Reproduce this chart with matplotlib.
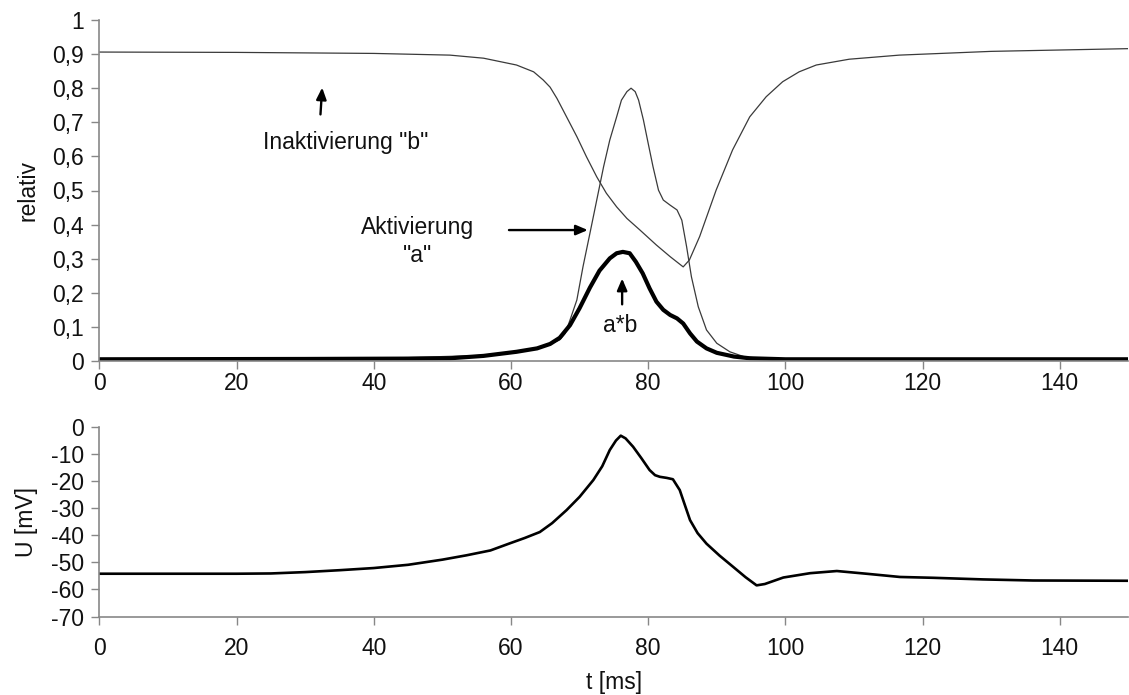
import matplotlib
matplotlib.use("Agg")
import matplotlib.pyplot as plt

plt.rcParams['font.family'] = ['Liberation Sans', 'DejaVu Sans']

# Inactivation variable b
t_b = [0, 20, 40, 51.1, 56.0, 60.8, 63.3, 64.7, 65.7, 66.7, 68.1, 69.6, 71.0,
       72.5, 73.9, 75.4, 76.9, 78.8, 81.2, 83.2, 85.1, 86.0, 87.5, 89.9, 92.3,
       94.8, 97.2, 99.6, 102, 104.5, 109.3, 116.6, 130, 150]
b = [0.906, 0.905, 0.902, 0.897, 0.888, 0.868, 0.848, 0.824, 0.803, 0.770, 0.716,
     0.658, 0.599, 0.540, 0.492, 0.452, 0.418, 0.384, 0.340, 0.306, 0.276, 0.296,
     0.365, 0.501, 0.619, 0.716, 0.775, 0.819, 0.848, 0.868, 0.885, 0.897, 0.908,
     0.916]

# Activation variable a
t_a = [0, 30, 45, 55, 60, 63, 65, 66, 67.1, 67.9, 68.6, 69.6, 70.5, 71.5, 72.5,
       73.5, 74.4, 75.4, 76.1, 76.9, 77.5, 78.1, 78.6, 79.3, 80.0, 80.7, 81.5,
       82.2, 83.2, 84.2, 84.9, 85.6, 86.3, 87.3, 88.5, 90.0, 91.9, 93.9, 96, 100,
       150]
a = [0.006, 0.007, 0.010, 0.016, 0.025, 0.035, 0.045, 0.052, 0.062, 0.081, 0.12,
     0.179, 0.277, 0.374, 0.472, 0.570, 0.648, 0.716, 0.765, 0.790, 0.800, 0.790,
     0.765, 0.707, 0.638, 0.570, 0.501, 0.472, 0.457, 0.443, 0.413, 0.335, 0.247,
     0.159, 0.091, 0.052, 0.027, 0.013, 0.008, 0.006, 0.005]

# Product a*b
t_ab = [0, 30, 45, 51.1, 56.0, 60.8, 63.8, 65.7, 67.1, 68.6, 70.0, 71.5, 72.9,
        74.4, 75.4, 76.3, 77.3, 78.2, 79.2, 80.2, 81.2, 82.2, 83.2, 84.2, 85.1,
        86.1, 87.1, 88.5, 90.0, 92.5, 94.8, 100, 150]
ab = [0.005, 0.006, 0.007, 0.008, 0.015, 0.027, 0.037, 0.050, 0.068, 0.105, 0.155,
      0.215, 0.265, 0.301, 0.316, 0.320, 0.316, 0.291, 0.257, 0.213, 0.174, 0.150,
      0.135, 0.125, 0.110, 0.081, 0.057, 0.037, 0.024, 0.013, 0.008, 0.005, 0.005]

# Membrane potential U [mV]
t_u = [0, 20, 25, 30, 35, 40, 45, 50, 53.5, 57, 59.8, 62, 64.2, 66, 68.1, 70, 72,
       73.3, 74.4, 75.3, 76.0, 76.7, 77.8, 79, 80.2, 81.0, 81.7, 82.7, 83.6, 84.6,
       85.3, 86.1, 87.2, 88.5, 90.4, 92.4, 94.2, 95.8, 97, 99.7, 103.6, 107.5,
       111.8, 116.7, 121.5, 128.8, 136.1, 150]
U = [-54.2, -54.2, -54.1, -53.6, -52.9, -52.1, -50.9, -49.0, -47.4, -45.6, -43.0,
     -41.0, -38.8, -35.5, -30.7, -25.8, -19.6, -14.5, -8.5, -5.0, -3.2, -4.2, -7.3,
     -11.5, -15.9, -17.8, -18.4, -18.8, -19.3, -23.3, -28.5, -34.4, -39.2, -43.1,
     -47.5, -51.7, -55.5, -58.5, -58.0, -55.6, -54.0, -53.2, -54.2, -55.4, -55.7,
     -56.3, -56.7, -56.8]

x_ticks = [0, 20, 40, 60, 80, 100, 120, 140]
rel_ticks = [0, 0.1, 0.2, 0.3, 0.4, 0.5, 0.6, 0.7, 0.8, 0.9, 1.0]
rel_tick_labels = ["0", "0,1", "0,2", "0,3", "0,4", "0,5", "0,6", "0,7", "0,8", "0,9", "1"]
u_ticks = [0, -10, -20, -30, -40, -50, -60, -70]

W, H = 1129, 695
fig = plt.figure(figsize=(W / 100, H / 100), dpi=100)
left = 99.4 / W
width = 1029.0 / W
ax1 = fig.add_axes([left, 1 - 361 / H, width, 341 / H])
ax2 = fig.add_axes([left, 1 - 616.5 / H, width, 189.5 / H])

axis_grey = '#878787'
text_col = '#111111'
fs = 16.5

for ax in (ax1, ax2):
    ax.set_facecolor('white')
    for s in ('top', 'right'):
        ax.spines[s].set_visible(False)
    for s in ('left', 'bottom'):
        ax.spines[s].set_color(axis_grey)
        ax.spines[s].set_linewidth(1.2)
    ax.set_xlim(0, 150)
    ax.set_xticks(x_ticks)
    ax.tick_params(axis='both', direction='out', length=6, width=1.0,
                   color=axis_grey, labelsize=fs, labelcolor=text_col)
    ax.tick_params(axis='y', pad=5)

# Upper panel: gating variables
ax1.plot(t_b, b, color='#3a3a3a', lw=0.9)
ax1.plot(t_a, a, color='#3a3a3a', lw=0.9)
ax1.plot(t_ab, ab, color='black', lw=3.0, solid_joinstyle='round')
ax1.set_ylim(0, 1)
ax1.set_yticks(rel_ticks)
ax1.set_yticklabels(rel_tick_labels)
ax1.tick_params(axis='x', pad=2)
ax1.set_ylabel('relativ', fontsize=fs, color=text_col, labelpad=9)

arrow = dict(arrowstyle='-|>,head_length=0.7,head_width=0.3', color='black', lw=1.7)
ax1.text(35.9, 0.64, 'Inaktivierung "b"', fontsize=fs, ha='center', va='center', color=text_col)
ax1.annotate('', xy=(32.5, 0.81), xytext=(32.2, 0.715), arrowprops=arrow)
ax1.text(46.4, 0.35, 'Aktivierung\n"a"', fontsize=fs, ha='center', va='center',
         color=text_col, linespacing=1.3)
ax1.annotate('', xy=(71.6, 0.384), xytext=(59.3, 0.384), arrowprops=arrow)
ax1.text(75.9, 0.105, 'a*b', fontsize=fs, ha='center', va='center', color=text_col)
ax1.annotate('', xy=(76.2, 0.25), xytext=(76.2, 0.158), arrowprops=arrow)

# Lower panel: membrane potential
ax2.plot(t_u, U, color='black', lw=1.9, solid_joinstyle='round')
ax2.set_ylim(-70, 0)
ax2.set_yticks(u_ticks)
ax2.set_yticklabels([str(v) for v in u_ticks])
ax2.tick_params(axis='x', pad=9)
ax2.set_ylabel('U [mV]', fontsize=fs, color=text_col, labelpad=9)
ax2.set_xlabel('t [ms]', fontsize=fs, color=text_col, labelpad=8)

fig.savefig('out.png', dpi=100, facecolor='white')
